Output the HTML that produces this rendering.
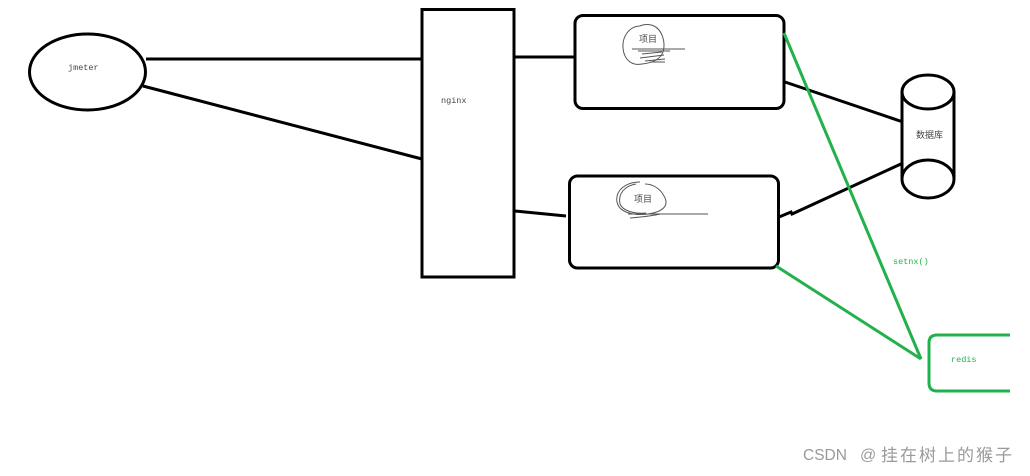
<!DOCTYPE html>
<html>
<head>
<meta charset="utf-8">
<style>
  html, body { margin:0; padding:0; background:#fff; }
  body { width:1030px; height:476px; overflow:hidden; position:relative; }
  svg { position:absolute; left:0; top:0; }
  .wm { position:absolute; top:446px; color:#9a9a9a; font-family:"Liberation Sans","Noto Sans CJK SC",sans-serif; white-space:nowrap; line-height:20px; }
  .wa { left:803px; font-size:15.5px; }
  .wb { left:860px; font-size:16px; }
  .wc { left:881px; font-size:17px; letter-spacing:2px; }
</style>
</head>
<body>
<svg width="1030" height="476" viewBox="0 0 1030 476" xmlns="http://www.w3.org/2000/svg">
  <g fill="none" stroke="#000" stroke-width="3">
    <ellipse cx="87.5" cy="72" rx="58" ry="38"/>
    <line x1="146" y1="59" x2="422" y2="59"/>
    <line x1="143" y1="86" x2="422" y2="159"/>
    <rect x="422" y="9.5" width="92" height="267.5"/>
    <line x1="514" y1="57" x2="575" y2="57"/>
    <line x1="515" y1="211" x2="566" y2="216"/>
    <rect x="575" y="15.5" width="209" height="93" rx="8" ry="8"/>
    <rect x="569.5" y="176" width="209" height="92" rx="8" ry="8"/>
    <line x1="785" y1="82" x2="903" y2="122"/>
    <polyline points="779,217 791,212 792,214 903,163"/>
    <path d="M902,92 L902,179 M954,92 L954,179"/>
    <ellipse cx="928" cy="92" rx="26" ry="17" fill="#fff"/>
    <path d="M902,179 A26,19 0 0 0 954,179 A26,19 0 0 0 902,179 Z" fill="#fff"/>
  </g>
  <g fill="none" stroke="#22b14c" stroke-width="3">
    <line x1="784" y1="33" x2="921" y2="359"/>
    <line x1="776" y1="266" x2="921" y2="359"/>
    <path d="M1010,335 L937,335 Q929,335 929,343 L929,383 Q929,391 937,391 L1010,391"/>
  </g>
  <g fill="none" stroke="#555" stroke-width="1">
    <path d="M640,26 C630,26 622,36 623,48 C624,60 632,66 642,64 C652,63 660,60 663,52 C666,42 662,30 654,26 C650,24 644,24 640,26"/>
    <line x1="632" y1="49" x2="685" y2="49"/>
    <line x1="638" y1="51" x2="670" y2="51"/>
    <path d="M642,54 L662,52 M640,58 L664,55 M645,61 L665,59 M650,62 L665,62"/>
  </g>
  <g fill="none" stroke="#555" stroke-width="1">
    <path d="M640,182 C626,182 615,190 617,202 C619,212 632,216 648,214 C662,212 670,206 664,196 C660,188 652,184 645,184"/>
    <path d="M636,184 C624,186 618,194 620,204 C623,211 634,214 646,213"/>
    <line x1="628" y1="214" x2="708" y2="214"/>
    <path d="M630,218 C642,217 652,216 660,214"/>
  </g>
  <g font-family="'Liberation Mono', monospace" font-size="8.5" fill="#444">
    <text x="68" y="70">jmeter</text>
    <text x="441" y="103">nginx</text>
  </g>
  <g font-family="'Liberation Mono', monospace" font-size="8.5" fill="#22b14c">
    <text x="893" y="264">setnx()</text>
    <text x="951" y="362">redis</text>
  </g>
  <g font-family="'Liberation Sans','Noto Sans CJK SC',sans-serif" font-size="9" fill="#444">
    <text x="639" y="42">项目</text>
    <text x="634" y="202">项目</text>
    <text x="916" y="138">数据库</text>
  </g>
</svg>
<div class="wm wa">CSDN</div>
<div class="wm wb">@</div>
<div class="wm wc">挂在树上的猴子</div>
</body>
</html>
